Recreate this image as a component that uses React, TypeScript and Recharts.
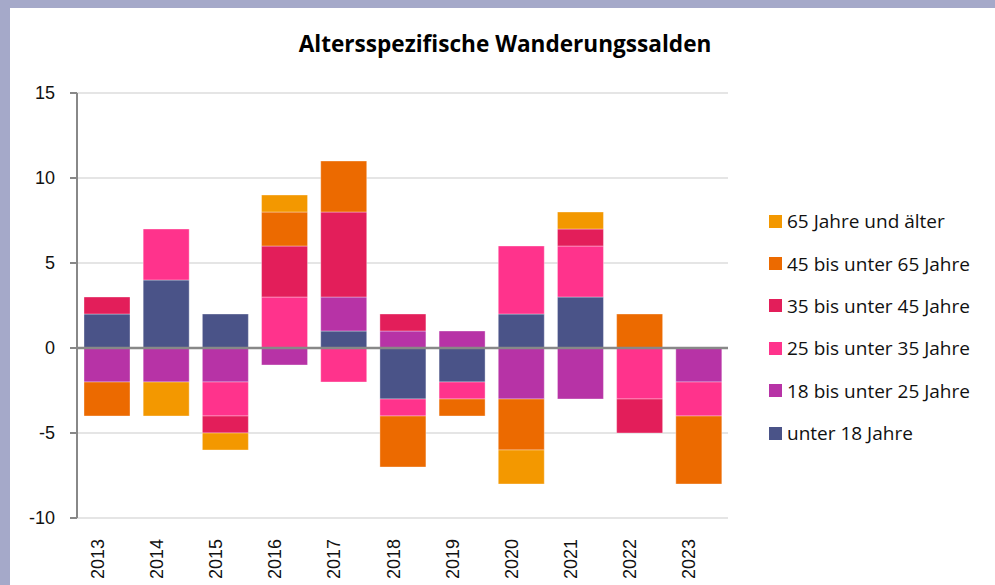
import React from "react";
import { BarChart, Bar, XAxis, YAxis, CartesianGrid, ReferenceLine } from "recharts";

const years = ["2013", "2014", "2015", "2016", "2017", "2018", "2019", "2020", "2021", "2022", "2023"];
const unter18 = [2, 4, 2, 0, 1, -3, -2, 2, 3, 0, 0];
const j18bis25 = [-2, -2, -2, -1, 2, 1, 1, -3, -3, 0, -2];
const j25bis35 = [0, 3, -2, 3, -2, -1, -1, 4, 3, -3, -2];
const j35bis45 = [1, 0, -1, 3, 5, 1, 0, 0, 1, -2, 0];
const j45bis65 = [-2, 0, 0, 2, 3, -3, -1, -3, 0, 2, -4];
const j65plus = [0, -2, -1, 1, 0, 0, 0, -2, 1, 0, 0];
const yTicks = [-10, -5, 0, 5, 10, 15];

const series = [
  { key: "u18", name: "unter 18 Jahre", color: "#4a5388", values: unter18 },
  { key: "a18", name: "18 bis unter 25 Jahre", color: "#b733a6", values: j18bis25 },
  { key: "a25", name: "25 bis unter 35 Jahre", color: "#ff338c", values: j25bis35 },
  { key: "a35", name: "35 bis unter 45 Jahre", color: "#e31e5a", values: j35bis45 },
  { key: "a45", name: "45 bis unter 65 Jahre", color: "#ec6a00", values: j45bis65 },
  { key: "a65", name: "65 Jahre und älter", color: "#f39800", values: j65plus },
];

const data = years.map((y, i) => {
  const row: Record<string, string | number> = { year: y };
  series.forEach((s) => {
    row[s.key] = s.values[i];
  });
  return row;
});

const YearTick = (props: any) => {
  const { x, y, payload } = props;
  const ax = x - 3;
  const ay = y + 15;
  return (
    <text
      x={ax}
      y={ay}
      transform={`rotate(-90, ${ax}, ${ay})`}
      textAnchor="end"
      fontFamily="Liberation Sans"
      fontSize={18}
      fill="#111"
    >
      {payload.value}
    </text>
  );
};

export default function App() {
  return (
    <div style={{ position: "fixed", left: 0, top: 0, width: 995, height: 585, background: "#a5a9c9", overflow: "hidden" }}>
      <div style={{ position: "absolute", left: 10, top: 8, width: 985, height: 577, background: "#fff" }} />
      <div
        style={{
          position: "absolute",
          left: 0,
          top: 29,
          width: 995,
          textAlign: "center",
          paddingLeft: 15,
          boxSizing: "border-box",
          fontFamily: "Open Sans",
          fontWeight: 700,
          fontSize: 22.6,
          lineHeight: "30px",
          color: "#000",
        }}
      >
        Altersspezifische Wanderungssalden
      </div>
      <div style={{ position: "absolute", left: 0, top: 0 }}>
        <BarChart
          width={995}
          height={585}
          data={data}
          stackOffset="sign"
          barSize={46}
          margin={{ top: 93, right: 267, bottom: 7, left: 0 }}
        >
          <CartesianGrid vertical={false} stroke="#dddddd" strokeWidth={1.5} />
          <XAxis
            dataKey="year"
            axisLine={false}
            tickLine={false}
            interval={0}
            height={60}
            tick={<YearTick />}
            tickMargin={0}
          />
          <YAxis
            width={77}
            domain={[-10, 15]}
            ticks={yTicks}
            interval={0}
            axisLine={{ stroke: "#888", strokeWidth: 2 }}
            tickLine={{ stroke: "#888", strokeWidth: 2 }}
            tickSize={7}
            tickMargin={15}
            tick={{ fontFamily: "Liberation Sans", fontSize: 18, fill: "#111" }}
          />
          {series.map((s) => (
            <Bar
              key={s.key}
              dataKey={s.key}
              name={s.name}
              stackId="a"
              fill={s.color}
              stroke="rgba(255,255,255,0.35)"
              strokeWidth={1}
              isAnimationActive={false}
            />
          ))}
          <ReferenceLine y={0} stroke="#888" strokeWidth={2.5} />
        </BarChart>
      </div>
      <div style={{ position: "absolute", left: 769, top: 200, fontFamily: "Open Sans", fontSize: 19, color: "#111" }}>
        {[...series].reverse().map((s) => (
          <div key={s.key} style={{ display: "flex", alignItems: "center", height: 42.4, whiteSpace: "nowrap" }}>
            <span style={{ display: "inline-block", width: 13, height: 13, background: s.color, marginRight: 5 }} />
            <span>{s.name}</span>
          </div>
        ))}
      </div>
    </div>
  );
}
